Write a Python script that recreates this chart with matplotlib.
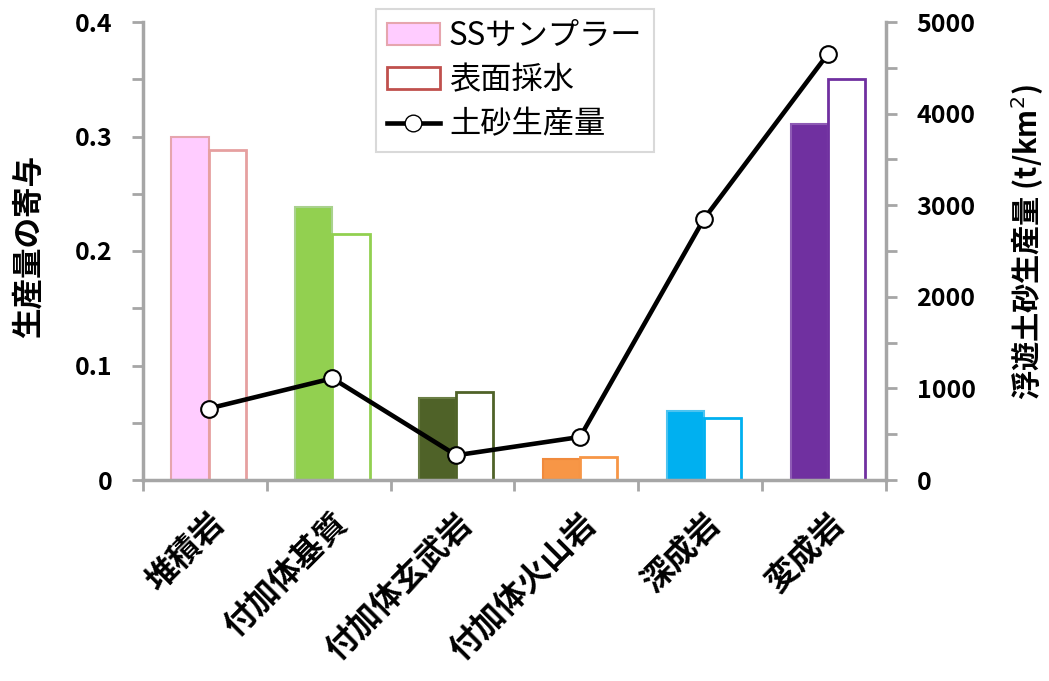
import numpy as np
import matplotlib
matplotlib.use("Agg")
import matplotlib.pyplot as plt
from matplotlib.lines import Line2D
from matplotlib.patches import Patch

plt.rcParams['font.family'] = ['Noto Sans CJK JP', 'DejaVu Sans']

# rock types and contributions
categories = ['堆積岩', '付加体基質', '付加体玄武岩', '付加体火山岩', '深成岩', '変成岩']
ss_sampler = [0.300, 0.238, 0.072, 0.018, 0.060, 0.311]
surface_water = [0.288, 0.215, 0.077, 0.020, 0.054, 0.350]
sediment_yield = [780, 1110, 270, 470, 2850, 4650]

fill_colors = ['#FFCCFF', '#92D050', '#4F6228', '#F79646', '#00B0F0', '#7030A0']
edge_colors = ['#E6A5AE', '#A9D18E', '#6B7F45', '#F08A3C', '#4CC3F0', '#8E5BB5']

axis_grey = '#A6A6A6'

fig = plt.figure(figsize=(10.49, 6.81), dpi=100)
ax = fig.add_axes([143 / 1049, 1 - 480 / 681, (886 - 143) / 1049, (480 - 22) / 681])

x = np.arange(len(categories))
w = 0.3
ax.bar(x - w / 2 + 0.03, ss_sampler, w, color=fill_colors, edgecolor=edge_colors, linewidth=1.5, zorder=2)
ax.bar(x + w / 2 + 0.03, surface_water, w, color='white', edgecolor=fill_colors, linewidth=2.0, zorder=2)
# first surface bar outline is pinkish-red rather than the pale fill colour
ax.patches[len(categories)].set_edgecolor('#E6A0A0')

ax.set_xlim(-0.5, len(categories) - 0.5)
ax.set_ylim(0, 0.4)
ax.set_yticks([0, 0.1, 0.2, 0.3, 0.4])
ax.set_yticklabels(['0', '0.1', '0.2', '0.3', '0.4'])
ax.set_yticks(np.arange(0.05, 0.4, 0.1), minor=True)
ax.set_xticks(np.arange(-0.5, len(categories), 1.0))
ax.set_xticklabels([])
ax.set_xticks(x + 0.12, minor=True)
ax.set_xticklabels(categories, minor=True, rotation=45, ha='right', va='center',
                   rotation_mode='anchor', fontsize=23, fontweight='bold')
ax.tick_params(axis='x', which='minor', length=0, pad=28)
ax.tick_params(axis='x', which='major', length=8, width=2, color=axis_grey)
ax.tick_params(axis='y', which='both', length=8, width=2, color=axis_grey, labelsize=18, pad=14)
for lab in ax.get_yticklabels():
    lab.set_fontweight('bold')
ax.set_ylabel('生産量の寄与', fontsize=22, fontweight='bold')
ax.yaxis.set_label_coords(-0.132, 0.51)

for side in ['top', 'right']:
    ax.spines[side].set_visible(False)
for side in ['left', 'bottom']:
    ax.spines[side].set_color(axis_grey)
    ax.spines[side].set_linewidth(2.5)

ax2 = ax.twinx()
ax2.plot(x + 0.03, sediment_yield, color='black', linewidth=3.3, marker='o', markersize=12,
         markerfacecolor='white', markeredgecolor='black', markeredgewidth=1.5, zorder=3)
ax2.set_ylim(0, 5000)
ax2.set_yticks(np.arange(0, 5001, 1000))
ax2.set_yticks(np.arange(500, 5000, 1000), minor=True)
ax2.tick_params(axis='y', which='both', length=8, width=2, color=axis_grey, labelsize=18, pad=14)
for lab in ax2.get_yticklabels():
    lab.set_fontweight('bold')
ax2.set_ylabel('浮遊土砂生産量 (t/km$^2$)', fontsize=21, fontweight='bold')
ax2.yaxis.set_label_coords(1.165, 0.52)
for side in ['top', 'left', 'bottom']:
    ax2.spines[side].set_visible(False)
ax2.spines['right'].set_color(axis_grey)
ax2.spines['right'].set_linewidth(2.5)

handles = [
    Patch(facecolor='#FFCCFF', edgecolor='#E6A5AE', linewidth=1.5),
    Patch(facecolor='white', edgecolor='#C0504D', linewidth=2.0),
    Line2D([], [], color='black', linewidth=3.3, marker='o', markersize=12,
           markerfacecolor='white', markeredgecolor='black'),
]
leg = fig.legend(handles, ['SSサンプラー', '表面採水', '土砂生産量'],
                 loc='upper left', bbox_to_anchor=(360 / 1049, 1.01),
                 fontsize=22.5, handlelength=1.7, handletextpad=0.3,
                 labelspacing=0.4, borderpad=0.35, fancybox=False, framealpha=1)
leg.get_frame().set_edgecolor('#D9D9D9')
leg.get_frame().set_linewidth(1.5)
leg.set_zorder(5)

fig.savefig('out.png', dpi=100)
